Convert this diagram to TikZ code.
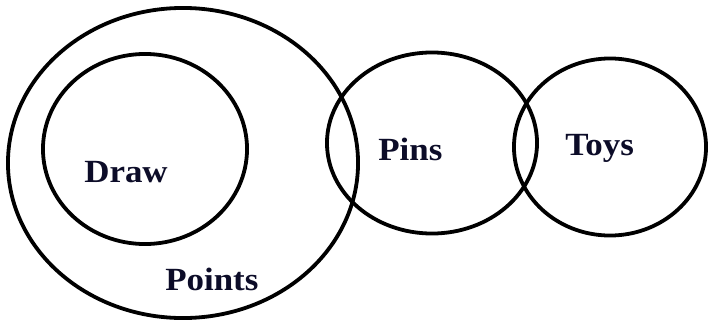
\documentclass[tikz,border=0pt]{standalone}
\usepackage{fontspec}
\setmainfont{Liberation Serif}[FakeStretch=1.08]
\usetikzlibrary{shapes.geometric}
\definecolor{inkblue}{RGB}{12,12,40}
\begin{document}
\begin{tikzpicture}[x=0.025cm, y=-0.025cm, line join=round, line cap=round,
	set/.style={draw, ellipse, line width=2.7pt, inner sep=0pt, outer sep=0pt},
	lbl/.style={anchor=base west, inner sep=0pt, text=inkblue, font=\fontsize{23pt}{26pt}\selectfont\bfseries}]
		\useasboundingbox (0,0) rectangle (710,322);
		% Hình tròn (ellipse) cho các tập hợp
		\node[set, minimum width=8.75cm, minimum height=7.75cm] (points) at (183,163) {};
		\node[set, minimum width=5.1cm, minimum height=4.75cm] (draw) at (145,149) {};
		\node[set, minimum width=5.25cm, minimum height=4.525cm] (pins) at (432,143) {};
		\node[set, minimum width=4.8cm, minimum height=4.425cm] (toys) at (610,147) {};
		% Nhãn
		\node[lbl] (drawlbl) at (84,182) {Draw};
		\node[lbl] (pointslbl) at (165,290) {Points};
		\node[lbl] (pinslbl) at (378,160) {Pins};
		\node[lbl] (toyslbl) at (565,155) {Toys};
	\end{tikzpicture}
\end{document}
